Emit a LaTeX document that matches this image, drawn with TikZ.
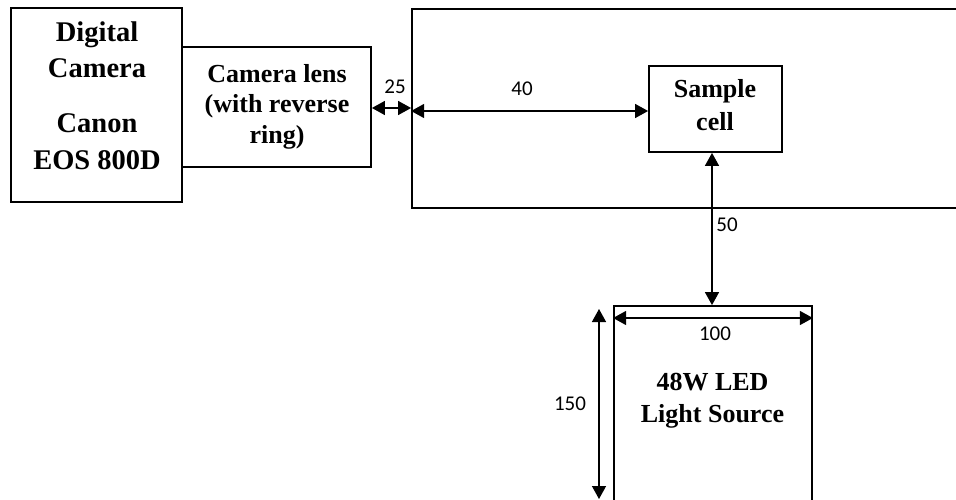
\documentclass[tikz,border=0pt]{standalone}
\usepackage{fontspec}
\setmainfont{Liberation Serif}
\newfontfamily\numfont{Carlito}
\usetikzlibrary{arrows.meta}
\begin{document}
\begin{tikzpicture}[x=1pt,y=-1pt,
  box/.style={draw,line width=1.8pt,minimum width=#1,inner sep=0pt},
  lbl/.style={anchor=base,inner sep=0pt,font=\fontsize{26}{30}\selectfont\bfseries},
  camlbl/.style={anchor=base,inner sep=0pt,font=\fontsize{28.5}{34}\selectfont\bfseries},
  num/.style={inner sep=0pt,font=\fontsize{21}{24}\numfont},
  dim/.style={line width=1.4pt,{Triangle[length=13pt,width=14pt]}-{Triangle[length=13pt,width=14pt]}}]
\useasboundingbox (0,0) rectangle (956,500);
\clip (0,0) rectangle (956,500);
% boxes
\node[box=171pt,minimum height=194pt] (cam) at (96.5,105) {};
\node[box=189pt,minimum height=120pt] (lens) at (276.5,107) {};
\node[box=588pt,minimum height=199pt] (big) at (706,108.5) {};
\node[box=133pt,minimum height=86pt] (cell) at (715.5,109) {};
\node[box=198pt,minimum height=254pt] (light) at (713,433) {};
% texts
\node[camlbl] (t1) at (97,42) {Digital};
\node[camlbl] (t2) at (97,78) {Camera};
\node[camlbl] (t3) at (97,133) {Canon};
\node[camlbl] (t4) at (97,170) {EOS 800D};
\node[lbl] (l1) at (277,83) {Camera lens};
\node[lbl] (l2) at (277,113) {(with reverse};
\node[lbl] (l3) at (277,143) {ring)};
\node[lbl] (s1) at (715,98) {Sample};
\node[lbl] (s2) at (715,131) {cell};
\node[lbl] (ls1) at (712.5,390) {48W LED};
\node[lbl] (ls2) at (712.5,422) {Light Source};
% dimension arrows
\coordinate (a25) at (0,108);
\draw[dim] (lens.east |- a25) -- (big.west |- a25);
\coordinate (a40) at (0,111);
\draw[dim] (big.west |- a40) -- (cell.west |- a40);
\coordinate (a50) at (712,0);
\draw[dim] (cell.south -| a50) -- (light.north -| a50);
\coordinate (a100) at (0,318);
\draw[dim] (light.west |- a100) -- (light.east |- a100);
\coordinate (a150t) at (599,309);
\coordinate (a150b) at (599,499);
\draw[dim] (a150t) -- (a150b);
% numbers
\node[num] (n25) at (395,87) {25};
\node[num] (n40) at (522,89) {40};
\node[num] (n50) at (727,225) {50};
\node[num] (n100) at (715,334) {100};
\node[num] (n150) at (570,404) {150};
\end{tikzpicture}
\end{document}
